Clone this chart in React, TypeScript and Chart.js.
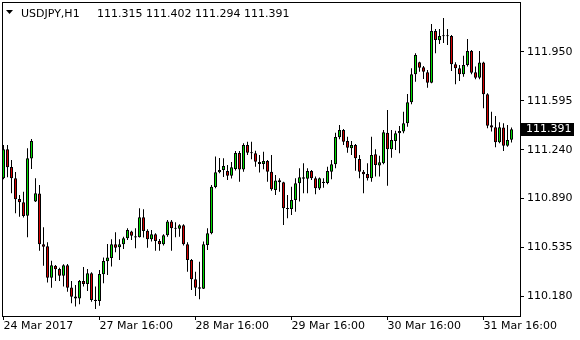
import React, { useEffect, useRef } from "react";
import { Chart, registerables } from "chart.js";

Chart.register(...registerables);

// ---- data (USDJPY, H1) ----
const symbolTitle = "USDJPY,H1";
const opens = [
  111.035, 111.245, 111.117, 111.035, 110.885, 110.862, 110.764, 111.178, 110.866, 110.924,
  110.557, 110.542, 110.315, 110.402, 110.377, 110.329, 110.405, 110.244, 110.178, 110.163,
  110.291, 110.269, 110.347, 110.155, 110.146, 110.340, 110.434, 110.457, 110.557, 110.535,
  110.557, 110.600, 110.650, 110.614, 110.607, 110.753, 110.655, 110.593, 110.629, 110.581,
  110.557, 110.622, 110.721, 110.673, 110.670, 110.694, 110.557, 110.443, 110.303, 110.245,
  110.235, 110.552, 110.637, 110.972, 111.078, 111.095, 111.088, 111.054, 111.102, 111.218,
  111.099, 111.276, 111.222, 111.216, 111.153, 111.138, 111.160, 111.083, 110.950, 111.020,
  111.006, 110.820, 110.812, 110.878, 110.999, 111.042, 111.032, 111.088, 111.035, 110.960,
  111.000, 111.000, 111.083, 111.136, 111.332, 111.385, 111.305, 111.252, 111.276, 111.175,
  111.083, 111.066, 111.035, 111.209, 111.128, 111.144, 111.365, 111.245, 111.305, 111.361,
  111.373, 111.434, 111.586, 111.789, 111.875, 111.839, 111.803, 111.728, 112.102, 112.035,
  112.068, 112.066, 112.066, 111.861, 111.832, 111.789, 111.856, 111.957, 111.803, 111.764,
  111.873, 111.644, 111.419, 111.404, 111.296, 111.402, 111.271, 111.315,
];
const highs = [
  111.276, 111.276, 111.168, 111.081, 110.914, 110.938, 111.252, 111.320, 111.035, 110.986,
  110.680, 110.571, 110.438, 110.407, 110.387, 110.412, 110.414, 110.291, 110.262, 110.298,
  110.392, 110.378, 110.354, 110.250, 110.371, 110.460, 110.559, 110.593, 110.644, 110.593,
  110.612, 110.673, 110.655, 110.673, 110.818, 110.810, 110.666, 110.660, 110.637, 110.595,
  110.629, 110.733, 110.733, 110.716, 110.702, 110.702, 110.571, 110.450, 110.358, 110.431,
  110.576, 110.673, 110.986, 111.192, 111.182, 111.180, 111.131, 111.153, 111.233, 111.233,
  111.289, 111.300, 111.300, 111.235, 111.204, 111.228, 111.168, 111.204, 111.059, 111.035,
  111.010, 110.914, 110.974, 111.035, 111.107, 111.144, 111.107, 111.095, 111.047, 111.040,
  111.035, 111.119, 111.168, 111.365, 111.421, 111.392, 111.336, 111.305, 111.284, 111.204,
  111.095, 111.144, 111.336, 111.245, 111.199, 111.385, 111.530, 111.385, 111.380, 111.414,
  111.517, 111.646, 111.832, 111.941, 111.880, 111.849, 111.820, 112.153, 112.117, 112.117,
  112.196, 112.117, 112.073, 111.875, 111.856, 111.923, 112.044, 111.965, 111.844, 111.957,
  111.880, 111.651, 111.517, 111.486, 111.441, 111.434, 111.421, 111.402,
];
const lows = [
  111.028, 111.042, 110.926, 110.781, 110.757, 110.750, 110.608, 111.102, 110.863, 110.510,
  110.402, 110.279, 110.242, 110.291, 110.291, 110.250, 110.213, 110.129, 110.105, 110.122,
  110.250, 110.218, 110.141, 110.088, 110.112, 110.274, 110.334, 110.395, 110.499, 110.443,
  110.523, 110.588, 110.588, 110.528, 110.605, 110.605, 110.532, 110.576, 110.510, 110.510,
  110.547, 110.612, 110.510, 110.608, 110.612, 110.547, 110.358, 110.226, 110.182, 110.158,
  110.232, 110.516, 110.630, 110.963, 111.071, 111.044, 111.023, 111.034, 111.092, 111.010,
  111.083, 111.204, 111.173, 111.119, 111.076, 111.100, 111.010, 110.945, 110.914, 110.938,
  110.697, 110.745, 110.769, 110.793, 110.866, 110.926, 110.926, 111.023, 110.919, 110.950,
  110.967, 110.992, 111.028, 111.107, 111.318, 111.276, 111.220, 111.204, 111.090, 111.035,
  110.926, 111.018, 111.010, 111.047, 111.047, 111.136, 110.981, 111.184, 111.240, 111.216,
  111.361, 111.409, 111.571, 111.735, 111.807, 111.754, 111.691, 111.723, 111.941, 112.008,
  112.015, 112.001, 111.812, 111.716, 111.740, 111.771, 111.844, 111.789, 111.752, 111.752,
  111.542, 111.397, 111.373, 111.260, 111.289, 111.233, 111.264, 111.294,
];
const closes = [
  111.245, 111.115, 111.035, 110.883, 110.861, 110.762, 111.180, 111.305, 110.926, 110.557,
  110.539, 110.315, 110.405, 110.376, 110.329, 110.405, 110.242, 110.177, 110.163, 110.291,
  110.269, 110.347, 110.153, 110.146, 110.342, 110.436, 110.460, 110.557, 110.532, 110.557,
  110.600, 110.660, 110.619, 110.605, 110.753, 110.653, 110.593, 110.629, 110.581, 110.557,
  110.622, 110.721, 110.673, 110.670, 110.694, 110.557, 110.443, 110.303, 110.242, 110.235,
  110.557, 110.637, 110.974, 111.078, 111.095, 111.124, 111.054, 111.115, 111.218, 111.099,
  111.276, 111.220, 111.216, 111.155, 111.138, 111.160, 111.083, 110.955, 111.018, 111.006,
  110.818, 110.812, 110.878, 110.999, 111.042, 111.032, 111.088, 111.035, 110.963, 111.035,
  111.010, 111.088, 111.136, 111.334, 111.385, 111.300, 111.257, 111.276, 111.180, 111.083,
  111.064, 111.035, 111.204, 111.131, 111.151, 111.368, 111.245, 111.312, 111.361, 111.378,
  111.434, 111.586, 111.789, 111.928, 111.836, 111.807, 111.728, 112.102, 112.037, 112.066,
  112.064, 112.064, 111.861, 111.832, 111.789, 111.856, 111.957, 111.800, 111.764, 111.873,
  111.644, 111.416, 111.402, 111.296, 111.404, 111.271, 111.312, 111.391,
];
const xTickIndex = [0, 24, 48, 72, 96, 120];
const xTickLabels = ["24 Mar 2017", "27 Mar 16:00", "28 Mar 16:00", "29 Mar 16:00", "30 Mar 16:00", "31 Mar 16:00"];
const yTickValues = [110.18, 110.535, 110.89, 111.24, 111.595, 111.95];

const FONT = "'DejaVu Sans', Verdana, sans-serif";
const BULL = "#00dc00";
const BEAR = "#d40000";

export default function App() {
  const ref = useRef<HTMLCanvasElement>(null);

  useEffect(() => {
    document.body.style.margin = "0";
    const idx = opens.map((_, i) => i);
    const bodies = idx.map((i) => ({ x: i, y: [Math.min(opens[i], closes[i]), Math.max(opens[i], closes[i])] }));
    const wicks = idx.map((i) => ({ x: i, y: [lows[i], highs[i]] }));
    const colors = idx.map((i) => (closes[i] >= opens[i] ? BULL : BEAR));
    const n = opens.length;
    const last = closes[n - 1];
    const ohlcText = [opens[n - 1], highs[n - 1], lows[n - 1], closes[n - 1]].map((v) => v.toFixed(3)).join(" ");

    const overlay = {
      id: "mtOverlay",
      afterDraw(chart: any) {
        const { ctx, chartArea } = chart;
        const { left, top, right, bottom } = chartArea;
        ctx.save();
        ctx.strokeStyle = "#000";
        ctx.lineWidth = 1;
        ctx.strokeRect(left - 0.5, top - 0.5, right - left + 1, bottom - top + 1);
        // title
        ctx.fillStyle = "#000";
        ctx.beginPath();
        ctx.moveTo(6, 10);
        ctx.lineTo(13, 10);
        ctx.lineTo(9.5, 14);
        ctx.closePath();
        ctx.fill();
        ctx.font = `11px ${FONT}`;
        ctx.textBaseline = "alphabetic";
        ctx.textAlign = "left";
        ctx.fillText(symbolTitle, 21, 17);
        ctx.fillText(ohlcText, 97, 17);
        // last price marker
        const y = chart.scales.y.getPixelForValue(last);
        const ty = Math.round(y) - 6;
        ctx.fillStyle = "#000";
        ctx.fillRect(right + 1, ty, 53, 13);
        ctx.fillStyle = "#fff";
        ctx.textBaseline = "middle";
        ctx.fillText(last.toFixed(3), right + 6, ty + 6.5);
        ctx.restore();
      },
    };

    const chart = new Chart(ref.current as HTMLCanvasElement, {
      type: "bar",
      data: {
        datasets: [
          {
            data: bodies as any,
            backgroundColor: colors,
            borderColor: "#000",
            borderWidth: 1,
            borderSkipped: false,
            grouped: false,
            categoryPercentage: 1,
            barPercentage: 0.75,
            minBarLength: 1,
            inflateAmount: 0,
            order: 0,
          } as any,
          {
            data: wicks as any,
            backgroundColor: "#000",
            borderWidth: 0,
            grouped: false,
            categoryPercentage: 1,
            barPercentage: 0.25,
            inflateAmount: 0,
            order: 1,
          } as any,
        ],
      },
      options: {
        animation: false,
        responsive: false,
        devicePixelRatio: 1,
        layout: { padding: { left: 3, top: 3, right: 0, bottom: 0 } },
        plugins: { legend: { display: false }, tooltip: { enabled: false }, title: { display: false } },
        scales: {
          x: {
            type: "linear",
            min: -0.125,
            max: 129.125,
            offset: false,
            afterFit: (s: any) => {
              s.height = 24;
              s.paddingLeft = 0;
              s.paddingRight = 0;
            },
            afterBuildTicks: (s: any) => {
              s.ticks = xTickIndex.map((v) => ({ value: v }));
            },
            grid: { offset: false, drawOnChartArea: false, drawTicks: true, tickLength: 4, color: "#000", lineWidth: 1 },
            border: { display: false },
            ticks: {
              autoSkip: false,
              maxRotation: 0,
              minRotation: 0,
              align: "start",
              padding: 0,
              color: "#000",
              font: { family: FONT, size: 11 },
              callback: (_v: any, i: number) => xTickLabels[i] ?? "",
            },
          } as any,
          y: {
            type: "linear",
            position: "right",
            min: 110.037,
            max: 112.305,
            beginAtZero: false,
            afterFit: (s: any) => {
              s.width = 60;
              s.paddingTop = 0;
              s.paddingBottom = 0;
            },
            afterBuildTicks: (s: any) => {
              s.ticks = yTickValues.map((v) => ({ value: v }));
            },
            grid: { drawOnChartArea: false, drawTicks: true, tickLength: 4, color: "#000", lineWidth: 1 },
            border: { display: false },
            ticks: {
              padding: 3,
              color: "#000",
              font: { family: FONT, size: 11 },
              callback: (v: any) => Number(v).toFixed(3),
            },
          } as any,
        },
      },
      plugins: [overlay],
    });
    return () => chart.destroy();
  }, []);

  return <canvas ref={ref} width={580} height={340} style={{ display: "block" }} />;
}
